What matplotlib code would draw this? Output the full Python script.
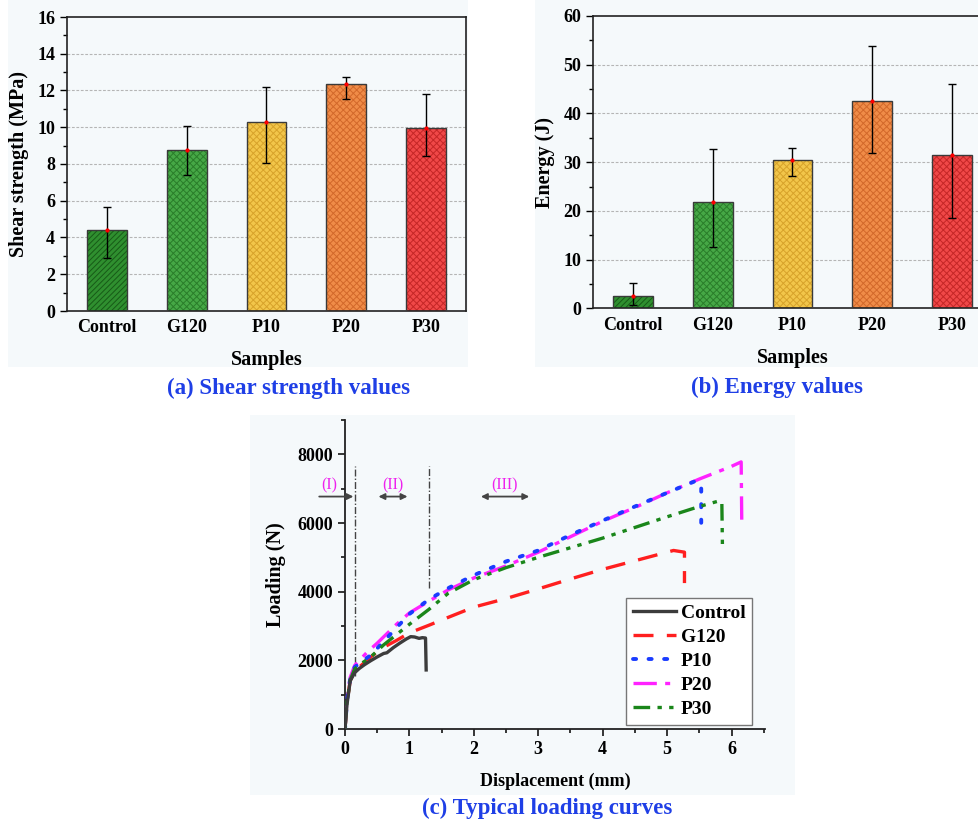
import matplotlib
matplotlib.use("Agg")
import matplotlib.pyplot as plt
from matplotlib.patches import Rectangle
from matplotlib.ticker import MultipleLocator

plt.rcParams['font.family'] = ['Liberation Serif', 'DejaVu Serif']
plt.rcParams['font.weight'] = 'bold'
plt.rcParams['hatch.linewidth'] = 0.7

# ---------------- data ----------------
samples = ["Control", "G120", "P10", "P20", "P30"]

shear = [4.42, 8.74, 10.29, 12.33, 9.97]
shear_err_low = [1.55, 1.33, 2.25, 0.79, 1.55]
shear_err_high = [1.22, 1.31, 1.92, 0.39, 1.82]

energy = [2.6, 21.9, 30.4, 42.6, 31.4]
energy_err_low = [1.9, 9.4, 3.2, 10.8, 12.9]
energy_err_high = [2.6, 10.7, 2.5, 11.2, 14.6]

bar_face = ["#2f8f2f", "#46a846", "#f2c64a", "#f08c48", "#f04848"]
bar_hatch_col = ["#175a17", "#2a7d2a", "#d7a22a", "#d2682a", "#c42626"]
bar_hatch = ["//////", "xxxxx", "xxxxx", "xxxxx", "xxxxx"]

control_x = [0, 0.03, 0.08, 0.15, 0.22, 0.3, 0.4, 0.5, 0.6, 0.65, 0.75, 0.85, 0.95, 1.02, 1.08, 1.15, 1.2, 1.25, 1.26]
control_y = [0, 700, 1400, 1640, 1760, 1870, 1990, 2100, 2200, 2220, 2370, 2500, 2620, 2690, 2680, 2640, 2660, 2650, 1720]

g120_x = [0, 0.03, 0.08, 0.15, 0.25, 0.4, 0.6, 0.8, 1.0, 1.3, 1.6, 2.0, 2.5, 3.0, 3.5, 4.0, 4.5, 5.0, 5.1, 5.27, 5.27]
g120_y = [0, 750, 1400, 1700, 1850, 2100, 2380, 2580, 2800, 3020, 3250, 3550, 3800, 4080, 4370, 4650, 4900, 5150, 5200, 5150, 4250]

p10_x = [0, 0.03, 0.08, 0.15, 0.25, 0.4, 0.6, 0.8, 1.0, 1.3, 1.6, 2.0, 2.5, 3.0, 3.5, 4.0, 4.5, 5.0, 5.45, 5.53, 5.53]
p10_y = [0, 800, 1450, 1800, 1950, 2150, 2550, 2950, 3350, 3770, 4100, 4480, 4880, 5200, 5650, 6070, 6480, 6880, 7230, 7100, 5780]

p20_x = [0, 0.03, 0.08, 0.15, 0.25, 0.35, 0.5, 0.8, 1.0, 1.3, 1.6, 2.0, 2.5, 3.0, 3.5, 4.0, 4.5, 5.0, 5.5, 6.0, 6.15, 6.16]
p20_y = [0, 850, 1500, 1850, 2050, 2250, 2500, 3050, 3380, 3720, 4050, 4400, 4750, 5150, 5600, 6050, 6450, 6880, 7280, 7650, 7780, 5900]

p30_x = [0, 0.03, 0.08, 0.15, 0.25, 0.4, 0.6, 0.8, 1.0, 1.3, 1.6, 2.0, 2.5, 3.0, 3.5, 4.0, 4.5, 5.0, 5.5, 5.82, 5.85, 5.86]
p30_y = [0, 780, 1420, 1750, 1900, 2100, 2450, 2750, 3050, 3480, 3950, 4350, 4700, 5000, 5280, 5560, 5870, 6180, 6480, 6650, 6600, 5230]

region_lines_x = [0.15, 1.31]
region_lines_top = [7650, 7650]
region_lines_bottom = [1550, 4100]

# ---------------- figure ----------------
W, H = 979, 821
fig = plt.figure(figsize=(W / 100, H / 100), dpi=100)
fig.patch.set_facecolor("white")

def px_rect(x0, y0, x1, y1):
    return [x0 / W, 1 - y1 / H, (x1 - x0) / W, (y1 - y0) / H]

bg = "#f5f9fb"
for (x0, y0, x1, y1) in [(8, 0, 468, 367), (535, 0, 979, 367), (250, 415, 795, 795)]:
    r = px_rect(x0, y0, x1, y1)
    fig.patches.append(Rectangle((r[0], r[1]), r[2], r[3], transform=fig.transFigure,
                                 facecolor=bg, edgecolor="none", zorder=-10))

TICK = 13
LAB = 14.5


def bar_panel(ax, vals, lo, hi, ymax, major, minor, ylabel):
    ax.set_facecolor("none")
    x = list(range(len(samples)))
    for i in x:
        ax.bar(i, vals[i], width=0.5, facecolor=bar_face[i], edgecolor=bar_hatch_col[i],
               linewidth=0, hatch=bar_hatch[i], zorder=2)
    ax.bar(x, vals, width=0.5, fill=False, edgecolor="#3a3a3a", linewidth=1.0, zorder=3)
    ax.errorbar(x, vals, yerr=[lo, hi], fmt="none", ecolor="black", elinewidth=1,
                capsize=2.6, capthick=1, zorder=4)
    ax.plot(x, vals, linestyle="none", marker="o", ms=2, color="red", zorder=5)
    ax.set_xlim(-0.5, 4.5)
    ax.set_ylim(0, ymax)
    ax.yaxis.set_major_locator(MultipleLocator(major))
    ax.yaxis.set_minor_locator(MultipleLocator(minor))
    ax.set_xticks(x)
    ax.set_xticklabels(samples)
    ax.tick_params(axis="x", length=0, pad=6, labelsize=TICK)
    ax.tick_params(axis="y", which="major", direction="out", length=5, width=1, labelsize=TICK)
    ax.tick_params(axis="y", which="minor", direction="out", length=3, width=1)
    for t in ax.get_xticklabels() + ax.get_yticklabels():
        t.set_fontweight("bold")
    for g in range(major, ymax, major):
        ax.axhline(g, color="#b5b5b5", lw=0.8, ls=(0, (2.5, 1.5)), zorder=1)
    for s in ax.spines.values():
        s.set_linewidth(1.2)
        s.set_color("#222222")
    ax.set_xlabel("Samples", fontsize=LAB, fontweight="bold", labelpad=10)
    ax.set_ylabel(ylabel, fontsize=LAB, fontweight="bold", labelpad=6)


ax1 = fig.add_axes([67 / W, 1 - 311 / H, 399 / W, 294 / H])
bar_panel(ax1, shear, shear_err_low, shear_err_high, 16, 2, 1, "Shear strength (MPa)")

ax2 = fig.add_axes([593 / W, 1 - 308.3 / H, 399 / W, 292.3 / H])
bar_panel(ax2, energy, energy_err_low, energy_err_high, 60, 10, 5, "Energy (J)")

title_col = "#1f3fe6"
fig.text(289 / W, 1 - 388 / H, "(a) Shear strength values", ha="center", va="center",
         fontsize=16.5, fontweight="bold", color=title_col)
fig.text(777 / W, 1 - 387 / H, "(b) Energy values", ha="center", va="center",
         fontsize=16.5, fontweight="bold", color=title_col)
fig.text(547 / W, 1 - 808 / H, "(c) Typical loading curves", ha="center", va="center",
         fontsize=16.5, fontweight="bold", color=title_col)

# ---------------- loading curves ----------------
ax3 = fig.add_axes([345 / W, 1 - 729 / H, 420 / W, 309 / H])
ax3.set_facecolor("none")
lw = 2.4
ax3.plot(control_x, control_y, color="#3c3c3c", lw=lw, ls="-", label="Control", zorder=6)
ax3.plot(g120_x, g120_y, color="#ff1f1f", lw=lw, ls=(0, (6, 4)), label="G120", zorder=3)
ax3.plot(p10_x, p10_y, color="#1a3cff", lw=lw + 0.4, ls=(0, (0.8, 3.2)), dash_capstyle="round",
         label="P10", zorder=4)
ax3.plot(p20_x, p20_y, color="#ff22ff", lw=lw, ls=(0, (7, 2.5, 1.5, 2.5)), label="P20", zorder=3)
ax3.plot(p30_x, p30_y, color="#1a861a", lw=lw, ls=(0, (5, 2.2, 1.3, 2.2, 1.3, 2.2)), label="P30",
         zorder=5)

for xv, yt, yb in zip(region_lines_x, region_lines_top, region_lines_bottom):
    ax3.plot([xv, xv], [yb, yt], color="#444444", lw=1.0, ls=(0, (5, 1.5, 1, 1.5)), zorder=2)

arr_y = 6770
ax3.annotate("", xy=(0.13, arr_y), xytext=(-0.4, arr_y), annotation_clip=False,
             arrowprops=dict(arrowstyle="-|>", color="#444444", lw=1.3, mutation_scale=9,
                             shrinkA=0, shrinkB=0))
ax3.annotate("", xy=(0.97, arr_y), xytext=(0.52, arr_y),
             arrowprops=dict(arrowstyle="<|-|>", color="#444444", lw=1.3, mutation_scale=9,
                             shrinkA=0, shrinkB=0))
ax3.annotate("", xy=(2.86, arr_y), xytext=(2.11, arr_y),
             arrowprops=dict(arrowstyle="<|-|>", color="#444444", lw=1.3, mutation_scale=9,
                             shrinkA=0, shrinkB=0))
reg_col = "#ee22ee"
ax3.text(-0.24, 6850, "(I)", color=reg_col, fontsize=11.5, fontweight="normal", ha="center",
         va="bottom", clip_on=False)
ax3.text(0.75, 6850, "(II)", color=reg_col, fontsize=11.5, fontweight="normal", ha="center", va="bottom")
ax3.text(2.48, 6850, "(III)", color=reg_col, fontsize=11.5, fontweight="normal", ha="center", va="bottom")

ax3.set_xlim(0, 6.52)
ax3.set_ylim(0, 9000)
ax3.xaxis.set_major_locator(MultipleLocator(1))
ax3.xaxis.set_minor_locator(MultipleLocator(0.5))
ax3.yaxis.set_major_locator(MultipleLocator(2000))
ax3.yaxis.set_minor_locator(MultipleLocator(1000))
ax3.tick_params(which="major", direction="out", length=5, width=1.1, labelsize=TICK)
ax3.tick_params(which="minor", direction="out", length=3, width=1.1)
for t in ax3.get_xticklabels() + ax3.get_yticklabels():
    t.set_fontweight("bold")
ax3.spines["top"].set_visible(False)
ax3.spines["right"].set_visible(False)
for s in ["left", "bottom"]:
    ax3.spines[s].set_linewidth(1.3)
    ax3.spines[s].set_color("#222222")
ax3.set_xlabel("Displacement (mm)", fontsize=13, fontweight="bold", labelpad=11)
ax3.set_ylabel("Loading (N)", fontsize=LAB, fontweight="bold", labelpad=8)

leg = ax3.legend(loc="lower right", bbox_to_anchor=(0.97, 0.013), fontsize=14,
                 handlelength=2.2, labelspacing=0.33, borderpad=0.35, handletextpad=0.25,
                 borderaxespad=0, frameon=True, fancybox=False, edgecolor="#777777",
                 framealpha=1)
leg.get_frame().set_linewidth(1.0)
for t in leg.get_texts():
    t.set_fontweight("bold")

fig.savefig("out.png", dpi=100)
